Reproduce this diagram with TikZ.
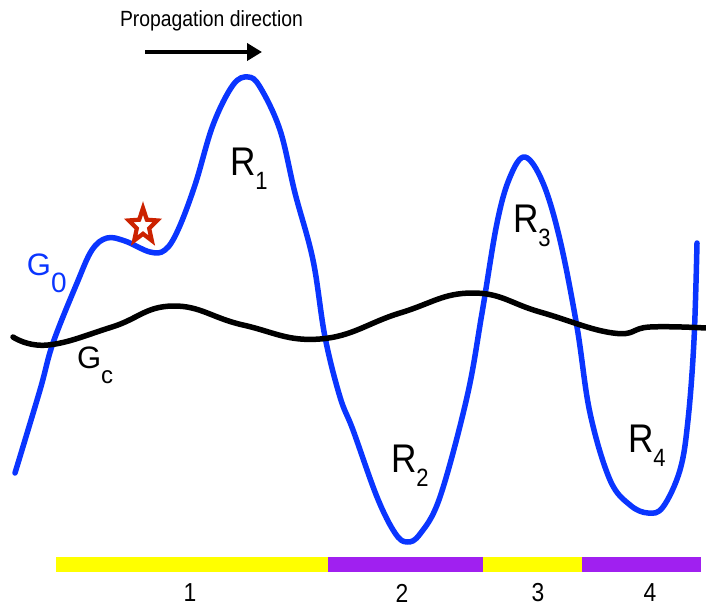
\documentclass[tikz,border=0pt]{standalone}
\usepackage{fontspec}
\setmainfont{Liberation Sans}[FakeStretch=0.88]
\newfontfamily\plainface{Liberation Sans}
\usepackage{tikz}
\usetikzlibrary{arrows.meta,positioning}
\definecolor{wave}{HTML}{0A35FF}
\definecolor{regA}{HTML}{FFFF00}
\definecolor{regB}{HTML}{A020F0}
\definecolor{starred}{HTML}{CC2200}
\newcommand{\Rlbl}[1]{R\raisebox{-14pt}{\fontsize{25}{25}\selectfont #1}}

\begin{document}
\begin{tikzpicture}[
  x=1pt, y=-1pt,
  every node/.style={inner sep=0pt, outer sep=0pt},
  curveG/.style={wave, line width=5.5pt, line cap=round, line join=round},
  curveC/.style={black, line width=5.5pt, line cap=round, line join=round},
  rlabel/.style={anchor=base west, font=\fontsize{40}{41}\selectfont},
  glabel/.style={anchor=base west, font=\plainface\fontsize{31}{32}\selectfont},
  numlabel/.style={font=\fontsize{26}{26}\selectfont},
  dirarrow/.style={-{Triangle[length=15pt,width=17pt]}, line width=4.5pt},
  starmark/.style={starred, fill=white, line width=4.2pt, line join=miter},
]
\useasboundingbox (0,0) rectangle (706,607);

% Propagation direction
\node[anchor=base west, font=\fontsize{22}{22}\selectfont] (prop) at (120,27) {Propagation direction};
\coordinate (dirA) at (145,52);
\coordinate (dirB) at (262,52);
\draw[dirarrow] (dirA) -- (dirB);

% G_0 curve
\draw[curveG] plot[smooth, tension=0.6] coordinates {
  (15,473) (40,390) (53,343) (77,283) (92,250) (107,238) (125,241)
  (150,252) (165,250) (178,230) (195,185) (213,125) (233,85) (248,77)
  (260,87) (280,130) (295,193) (313,260) (325,337) (340,397) (353,430)
  (377,497) (395,533) (407,542) (420,534) (440,497) (467,397) (482,313)
  (497,223) (510,177) (525,157) (543,183) (560,240) (577,327) (590,413)
  (610,480) (630,505) (648,513) (663,507) (680,470) (688,420) (694,340)
  (697,243)};

% G_c curve
\draw[curveC] plot[smooth, tension=0.75] coordinates {
  (13,337) (48,345) (112,327) (173,306) (243,325)
  (320,339) (400,313) (472,293) (540,312)
  (613,333) (650,327) (706,328)};

% star
\draw[starmark] (143,226) +(-90:15 and 18) -- +(-54:6.5 and 7.8) -- +(-18:15 and 18)
  -- +(18:6.5 and 7.8) -- +(54:15 and 18) -- +(90:6.5 and 7.8) -- +(126:15 and 18)
  -- +(162:6.5 and 7.8) -- +(198:15 and 18) -- +(234:6.5 and 7.8) -- cycle;

% labels
\node[glabel, wave] (g0) at (27,275) {G\raisebox{-17pt}{\fontsize{28}{28}\selectfont 0}};
\node[glabel] (gc) at (77,368) {G\raisebox{-15pt}{\fontsize{24}{24}\selectfont c}};
\node[rlabel] (r1) at (230,175) {\Rlbl{1}};
\node[rlabel] (r2) at (391,472) {\Rlbl{2}};
\node[rlabel] (r3) at (513,232) {\Rlbl{3}};
\node[rlabel] (r4) at (628,452) {\Rlbl{4}};

% regions bar
\fill[regA] (56,557) rectangle (328,572);
\fill[regB] (328,557) rectangle (483,572);
\fill[regA] (483,557) rectangle (582,572);
\fill[regB] (582,557) rectangle (701,572);
\node[numlabel] (n1) at (190,593) {1};
\node[numlabel] (n2) at (402,593) {2};
\node[numlabel] (n3) at (538,593) {3};
\node[numlabel] (n4) at (650,593) {4};
\end{tikzpicture}
\end{document}
